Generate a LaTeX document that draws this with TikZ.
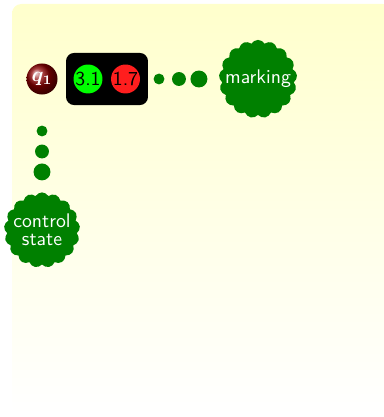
\documentclass[tikz,border=0pt]{standalone}
\usepackage{xcolor}
\usepackage{tikz}
\usetikzlibrary{shapes.callouts, shapes.symbols, positioning}
\definecolor{MkGreen}{RGB}{0,128,0}
\definecolor{MkYellow}{RGB}{255,255,204}
\definecolor{MkRed}{RGB}{255,30,30}

\begin{document}
\begin{tikzpicture}[x=0.532pt, y=-0.532pt,
          token/.style={circle, inner sep=0pt, minimum size=15.4pt,
                        font=\sffamily\fontsize{10.5}{12}\selectfont, text=black},
          thought/.style={cloud callout, cloud puffs=17, cloud puff arc=120,
                        aspect=1, inner sep=-4pt, fill=MkGreen, text=white,
                        minimum width=40.4pt, minimum height=40pt,
                        font={\sffamily\fontsize{10.5}{9.6}\selectfont}, align=center,
                        callout pointer segments=3,
                        callout pointer start size=10.6pt,
                        callout pointer end size=5.8pt}
        ]
        \useasboundingbox (0,0) rectangle (384,417);
        \shade[top color=MkYellow, bottom color=white, rounded corners=5pt]
              (12,4) rectangle (392,414);

        \node[circle, ball color=red!55!black, minimum size=16.5pt, inner sep=0pt,
              text=white, font=\fontsize{10.5}{12}\selectfont\boldmath] (q) at (42,79) {$q_1$};
        \node[rectangle, rounded corners=4.3pt, fill=black,
              minimum width=43.6pt, minimum height=27.7pt] (box) at (107,79) {};
        \node[token, fill=green] (t1) at (88,79) {3.1};
        \node[token, fill=MkRed] (t2) at (125.5,79) {1.7};

        % Callouts
        \coordinate (mp) at (159,79);
        \coordinate (cp) at (42,131);
        \node[thought, callout absolute pointer={(mp)}] (mark) at (258,79) {marking};
        \node[thought, callout absolute pointer={(cp)}] (ctrl) at (42,230) {control\\state};
      \end{tikzpicture}
\end{document}
